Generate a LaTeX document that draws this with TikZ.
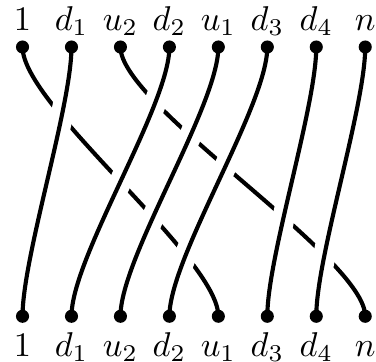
\documentclass[tikz,border=0pt]{standalone}
\usepackage{amsmath}
\usetikzlibrary{positioning, backgrounds}

\begin{document}
\begin{tikzpicture}[
    x=0.5cm, y=0.5cm,
    dot/.style={circle, fill=black, inner sep=0pt, minimum size=3.8pt},
    lbl/.style={inner sep=0pt, text height=1.5ex, text depth=.4ex},
    strand/.style={very thick},
    over/.style={very thick, preaction={draw=white, line width=6.5pt}}
]
\useasboundingbox (-0.46,-0.92) rectangle (7.22,6.46);

% Endpoints on the top row
\node[dot] (t1) at (0,5.5) {};
\node[dot] (t2) at (1,5.5) {};
\node[dot] (t3) at (2,5.5) {};
\node[dot] (t4) at (3,5.5) {};
\node[dot] (t5) at (4,5.5) {};
\node[dot] (t6) at (5,5.5) {};
\node[dot] (t7) at (6,5.5) {};
\node[dot] (t8) at (7,5.5) {};

% Endpoints on the bottom row
\node[dot] (b1) at (0,0) {};
\node[dot] (b2) at (1,0) {};
\node[dot] (b3) at (2,0) {};
\node[dot] (b4) at (3,0) {};
\node[dot] (b5) at (4,0) {};
\node[dot] (b6) at (5,0) {};
\node[dot] (b7) at (6,0) {};
\node[dot] (b8) at (7,0) {};

% Labels
\node[lbl, above=0.7pt of t1] (lt1) {$1$};
\node[lbl, above=0.7pt of t2] (lt2) {$d_1$};
\node[lbl, above=0.7pt of t3] (lt3) {$u_2$};
\node[lbl, above=0.7pt of t4] (lt4) {$d_2$};
\node[lbl, above=0.7pt of t5] (lt5) {$u_1$};
\node[lbl, above=0.7pt of t6] (lt6) {$d_3$};
\node[lbl, above=0.7pt of t7] (lt7) {$d_4$};
\node[lbl, above=0.7pt of t8] (lt8) {$n$};

\node[lbl, below=2.9pt of b1] (lb1) {$1$};
\node[lbl, below=2.9pt of b2] (lb2) {$d_1$};
\node[lbl, below=2.9pt of b3] (lb3) {$u_2$};
\node[lbl, below=2.9pt of b4] (lb4) {$d_2$};
\node[lbl, below=2.9pt of b5] (lb5) {$u_1$};
\node[lbl, below=2.9pt of b6] (lb6) {$d_3$};
\node[lbl, below=2.9pt of b7] (lb7) {$d_4$};
\node[lbl, below=2.9pt of b8] (lb8) {$n$};

\begin{scope}[on background layer]
% Strands that pass underneath
\draw[strand] (t1.center) .. controls +(0,-1.2) and +(0,1.2) .. (b5.center);
\draw[strand] (t3.center) .. controls +(0,-1.2) and +(0,1.2) .. (b8.center);

% Strands that pass over
\draw[over] (t2.center) .. controls +(0,-1.2) and +(0,1.2) .. (b1.center);
\draw[over] (t4.center) .. controls +(0,-1.2) and +(0,1.2) .. (b2.center);
\draw[over] (t5.center) .. controls +(0,-1.2) and +(0,1.2) .. (b3.center);
\draw[over] (t6.center) .. controls +(0,-1.2) and +(0,1.2) .. (b4.center);
\draw[over] (t7.center) .. controls +(0,-1.2) and +(0,1.2) .. (b6.center);
\draw[over] (t8.center) .. controls +(0,-1.2) and +(0,1.2) .. (b7.center);
\end{scope}

\end{tikzpicture}
\end{document}
